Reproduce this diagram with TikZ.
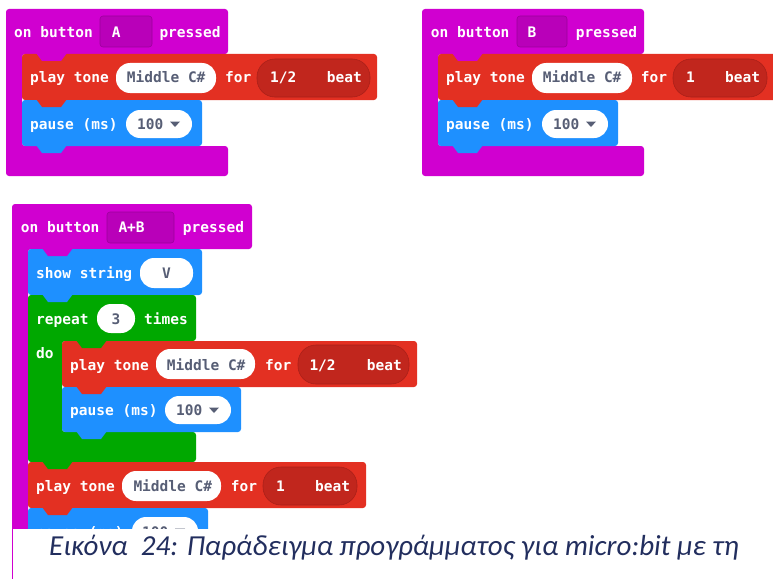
\documentclass[tikz,border=0pt]{standalone}
\usepackage{fontspec}
\newfontfamily\monofam{DejaVu Sans Mono}
\newfontfamily\capfam{Carlito}
\definecolor{hatmag}{HTML}{D000D0}
\definecolor{btnmag}{HTML}{B900B9}
\definecolor{btnedge}{HTML}{9C009C}
\definecolor{musred}{HTML}{E33022}
\definecolor{beatred}{HTML}{C1261D}
\definecolor{beatedge}{HTML}{AA2019}
\definecolor{basblue}{HTML}{1E90FF}
\definecolor{loopgreen}{HTML}{00A800}
\definecolor{pilltext}{HTML}{575E75}
\definecolor{captext}{HTML}{222E5E}
\newcommand\blockfont{\monofam\bfseries\fontsize{14.5}{16}\selectfont}
\newcommand\blocktab[3]{%
  \fill[#3] ({#1+14},{#2-1}) -- ({#1+20},{#2+7}) -- ({#1+39},{#2+7}) -- ({#1+45},{#2-1}) -- cycle;}
\newcommand\droptri[2]{%
  \fill[pilltext] (#1,#2) -- ({#1+10},#2) -- ({#1+5},{#2+5.5}) -- cycle;}
\tikzset{
  x=1pt, y=-1pt,
  lbl/.style={font=\blockfont, text=white, anchor=base west, inner sep=0pt},
  val/.style={font=\blockfont, text=pilltext, anchor=base west, inner sep=0pt},
  pill/.style={fill=white, rounded corners=14pt},
  beatpill/.style={fill=beatred, draw=beatedge, line width=0.6pt, rounded corners=18pt},
  btn/.style={fill=btnmag, draw=btnedge, line width=0.6pt, rounded corners=3pt},
  body/.style={rounded corners=3pt},
}
\begin{document}
\begin{tikzpicture}
\useasboundingbox (0,0) rectangle (773,578);
\clip (0,0) rectangle (773,578);
% ================= Block A =================
\fill[hatmag, body] (6,9) -- (228,9) -- (228,54) -- (22,54) -- (22,146) -- (228,146) -- (228,176) -- (6,176) -- cycle;
\fill[musred, body] (22,54) rectangle (377,100);
\fill[basblue, body] (22,100) rectangle (202,146);
\blocktab{22}{54}{hatmag}
\blocktab{22}{100}{musred}
\blocktab{22}{146}{basblue}
\draw[btn] (100,16) rectangle (152,47);
\node[lbl] (a1) at (14,37.5) {on button};
\node[lbl] (a2) at (111.7,37.5) {A};
\node[lbl] (a3) at (159.3,37.5) {pressed};
\fill[pill] (116,63) rectangle (216,93);
\fill[beatpill] (257,59) rectangle (370,97);
\node[lbl] (a4) at (30,82.5) {play tone};
\node[val] (a5) at (126.7,82.5) {Middle C\#};
\node[lbl] (a6) at (225,82.5) {for};
\node[lbl] (a7) at (270,82.5) {1/2};
\node[lbl] (a8) at (326.7,82.5) {beat};
\fill[pill] (126,110) rectangle (192,138);
\node[lbl] (a9) at (30,129) {pause (ms)};
\node[val] (a10) at (137,129) {100};
\droptri{170}{121.5}
% ================= Block B =================
\fill[hatmag, body] (422,9) -- (644,9) -- (644,54) -- (438,54) -- (438,146) -- (644,146) -- (644,176) -- (422,176) -- cycle;
\fill[musred, body] (438,54) rectangle (777,100);
\fill[basblue, body] (438,100) rectangle (618,146);
\blocktab{438}{54}{hatmag}
\blocktab{438}{100}{musred}
\blocktab{438}{146}{basblue}
\draw[btn] (517,16) rectangle (567,47);
\node[lbl] (b1) at (430.7,37.5) {on button};
\node[lbl] (b2) at (527.3,37.5) {B};
\node[lbl] (b3) at (575.7,37.5) {pressed};
\fill[pill] (532,63) rectangle (632,93);
\fill[beatpill] (673,59) rectangle (767,97);
\node[lbl] (b4) at (446,82.5) {play tone};
\node[val] (b5) at (542.7,82.5) {Middle C\#};
\node[lbl] (b6) at (640.7,82.5) {for};
\node[lbl] (b7) at (686,82.5) {1};
\node[lbl] (b8) at (725,82.5) {beat};
\fill[pill] (542,110) rectangle (608,138);
\node[lbl] (b9) at (446,129) {pause (ms)};
\node[val] (b10) at (553,129) {100};
\droptri{586}{121.5}
% ================= Block C =================
\fill[hatmag, body] (12,204) -- (252,204) -- (252,249) -- (28,249) -- (28,620) -- (12,620) -- cycle;
\fill[basblue, body] (28,249) rectangle (202,295);
\fill[loopgreen, body] (28,295) -- (196,295) -- (196,341) -- (62,341) -- (62,432) -- (196,432) -- (196,462) -- (28,462) -- cycle;
\fill[musred, body] (62,341) rectangle (417,387);
\fill[basblue, body] (62,387) rectangle (241,432);
\fill[musred, body] (28,462) rectangle (366,508);
\fill[basblue, body] (28,508) rectangle (208,560);
\blocktab{28}{249}{hatmag}
\blocktab{28}{295}{basblue}
\blocktab{62}{341}{loopgreen}
\blocktab{62}{387}{musred}
\blocktab{62}{432}{basblue}
\blocktab{28}{462}{loopgreen}
\blocktab{28}{508}{musred}
\draw[btn] (107,212) rectangle (174,243);
\node[lbl] (c1) at (20.7,232.5) {on button};
\node[lbl] (c2) at (118.3,232.5) {A+B};
\node[lbl] (c3) at (182.7,232.5) {pressed};
% show string
\fill[pill] (140,258) rectangle (193,288);
\node[lbl] (c4) at (36,278.3) {show string};
\node[val, anchor=base] (c5) at (166.5,278.3) {V};
% repeat
\fill[pill] (97,304) rectangle (135,333);
\node[lbl] (c6) at (36,324) {repeat};
\node[val, anchor=base] (c7) at (116,324) {3};
\node[lbl] (c8) at (144,324) {times};
\node[lbl] (c9) at (36,358.3) {do};
% inner play tone
\fill[pill] (156,349) rectangle (255,379);
\fill[beatpill] (298,345) rectangle (409,384);
\node[lbl] (c10) at (70,370) {play tone};
\node[val] (c11) at (166.7,370) {Middle C\#};
\node[lbl] (c12) at (265,370) {for};
\node[lbl] (c13) at (309.3,370) {1/2};
\node[lbl] (c14) at (366.7,370) {beat};
% inner pause
\fill[pill] (165,396) rectangle (231,424);
\node[lbl] (c15) at (70,415.5) {pause (ms)};
\node[val] (c16) at (176,415.5) {100};
\droptri{209}{407.5}
% second play tone
\fill[pill] (122,471) rectangle (221,501);
\fill[beatpill] (263,467) rectangle (357,505);
\node[lbl] (c17) at (36,491) {play tone};
\node[val] (c18) at (133.3,491) {Middle C\#};
\node[lbl] (c19) at (230.7,491) {for};
\node[lbl] (c20) at (276,491) {1};
\node[lbl] (c21) at (315,491) {beat};
% second pause (mostly hidden by the caption)
\fill[pill] (132,517) rectangle (198,545);
\begin{scope}
\clip (0,0) rectangle (773,529);
\node[lbl] (c22) at (36,537) {pause (ms)};
\node[val] (c23) at (142,537) {100};
\end{scope}
\droptri{175}{528.5}
% ================= Caption =================
\fill[white] (13,529) rectangle (800,620);
\node[font=\capfam\itshape\fontsize{29}{33}\selectfont, text=captext, anchor=base west, inner sep=0pt] (cap) at (49,555) {Εικόνα\ \ 24: Παράδειγμα προγράμματος για micro:bit με τη};
\end{tikzpicture}
\end{document}
